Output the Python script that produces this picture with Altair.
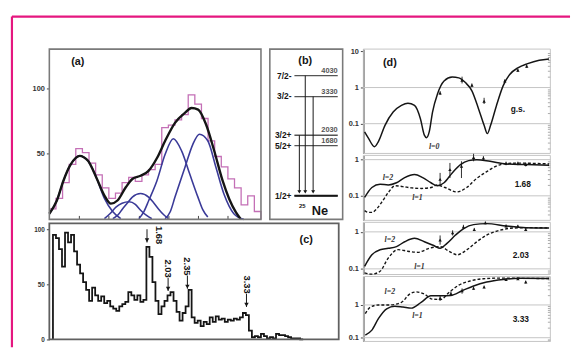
import altair as alt
import pandas as pd

FONT = "Liberation Sans"
SERIF = "Liberation Serif"

# ======================= DATA =======================
# (a) spectrum: counts per bin, total fit and five components
a_counts = [8, 16, 28, 42, 54, 51, 43, 34, 24, 16, 20, 28, 32, 29, 34, 38,
            42, 70, 72, 76, 80, 95, 88, 77, 60, 48, 40, 31, 24, 11, 18, 6]
a_fit_x = [0, 1.14, 2.13, 3.12, 4.0, 4.6, 5.2, 5.85, 7.1, 8.33, 9.3, 10.3,
           11.56, 12.55, 13.8, 15.0, 16.3, 17.5, 19.0, 20.5, 21.5, 22.5,
           23.7, 24.95, 26.2, 27.2, 28.2, 28.9]
a_fit_y = [4.3, 14.4, 29.5, 41, 47, 48.5, 47.5, 44.7, 32, 18.2, 12, 14.4,
           24.5, 30.8, 33.3, 37, 47, 59.8, 73.7, 81.3, 85, 83.8,
           72.4, 52, 29.5, 15.6, 5.5, 0.5]
a_g1_x = [0, 1.14, 2.13, 3.12, 4.0, 4.6, 5.2, 5.85, 7.1, 8.33, 9.57, 10.8]
a_g1_y = [4.3, 14.4, 29.5, 41, 47, 48.5, 47.5, 44.7, 32, 16, 6, 0.5]
a_g2_x = [8.33, 9.2, 10.07, 11.0, 12.05, 13.0, 13.8, 14.7, 15.5]
a_g2_y = [0.5, 4.5, 9.3, 12.3, 13.4, 11.5, 7, 3, 0.5]
a_g3_x = [9.6, 10.4, 11.06, 11.8, 12.55, 13.8, 15.0, 15.8, 16.5, 17.3, 18.0]
a_g3_y = [0.5, 3.5, 8, 12.5, 17, 19.7, 17, 12.5, 8, 3.5, 0.5]
a_g4_x = [13.54, 14.3, 15.03, 16.27, 17.51, 18.75, 20.0, 21.23, 22.47, 23.2, 23.96]
a_g4_y = [0.5, 6, 14.4, 29.5, 49.7, 61.6, 52.3, 34.6, 17, 7.5, 1.8]
a_g5_x = [17.5, 18.3, 19.0, 20.5, 21.7, 22.7, 23.96, 25.2, 26.4, 27.2, 27.9, 29.4]
a_g5_y = [0.5, 6, 17, 39.6, 57.3, 65, 60, 39.6, 19.4, 10, 4.3, 0]

# (b) level scheme of 25Ne
b_energy = [0, 1680, 2030, 3330, 4030]
b_spin = ["1/2+", "5/2+", "3/2+", "3/2-", "7/2-"]
b_tr_from = [2030, 4030, 3330]
b_tr_lane = [30, 36, 44]

# (c) excitation spectrum (0.05 MeV bins starting at 0.12 MeV)
c_start = 0.12
c_width = 0.05
c_counts = [95, 92, 82, 66, 97, 88, 95, 80, 68, 60, 52, 45, 35, 47, 40, 35,
            39, 33, 35, 30, 28, 26, 30, 32, 34, 43, 40, 36, 40, 34, 36, 84,
            75, 52, 35, 23, 30, 35, 40, 43, 35, 25, 17, 24, 30, 45, 20, 15,
            17, 12, 16, 14, 20, 16, 21, 18, 19, 16, 18, 17, 19, 18, 20, 24,
            22, 8, 2, 3, 2, 5, 3, 1, 2, 1, 5, 4, 4, 3, 2, 1, 1, 1, 0]
c_peak_e = [1.68, 2.03, 2.35, 3.33]
c_peak_tip = [88, 44, 46, 29.5]

# (d) angular distributions (angle in deg, cross section)
d1_ang = [0.13, 0.53, 1.13, 1.53, 2.2, 3.03, 3.87, 4.53, 5.2, 5.8, 6.2, 6.43, 6.7,
          7.03, 7.53, 8.2, 9.03, 9.7, 10.37, 11.03, 11.7, 12.27, 12.6, 12.93,
          13.53, 14.2, 14.87, 15.7, 16.7, 17.87, 18.87]
d1_l0 = [0.059, 0.039, 0.023, 0.032, 0.09, 0.21, 0.32, 0.37, 0.32, 0.137, 0.048,
         0.041, 0.06, 0.21, 0.66, 1.52, 1.95, 1.85, 1.37, 0.81, 0.26, 0.09,
         0.053, 0.09, 0.32, 1.11, 2.3, 3.5, 4.6, 5.7, 6.2]
d1_pt_ang = [7.8, 10.03, 11.03, 12.27, 14.37, 15.7, 16.6]
d1_pt = [0.7, 1.6, 1.15, 0.42, 1.52, 3.0, 3.9]
d1_lo = [0.62, 1.3, 1.02, 0.35, 1.38, 2.7, 3.5]
d1_hi = [0.8, 2.0, 1.3, 0.52, 1.68, 3.3, 4.3]

d2_ang = [0.13, 0.87, 1.7, 2.53, 3.37, 4.2, 5.2, 6.03, 6.87, 7.53, 8.2, 9.03,
          9.87, 10.7, 11.53, 12.87, 14.53, 16.53, 18.87]
d2_l2 = [0.09, 0.17, 0.21, 0.2, 0.23, 0.32, 0.39, 0.32, 0.23, 0.19, 0.23, 0.43,
         0.73, 0.94, 1.0, 0.9, 0.76, 0.73, 0.7]
d2_ang1 = [0.13, 0.5, 0.9, 1.4, 2.0, 2.6, 3.2, 4.0, 4.9, 5.9, 6.9, 7.5, 8.3, 9.5,
           10.5, 11.5, 12.5, 13.5, 14.5, 15.9, 18.87]
d2_l1 = [0.039, 0.035, 0.035, 0.045, 0.075, 0.13, 0.19, 0.18, 0.166, 0.16, 0.17,
         0.2, 0.17, 0.128, 0.17, 0.3, 0.46, 0.66, 0.78, 0.8, 0.76]
d2_pt_ang = [7.8, 8.8, 9.97, 11.2, 12.2, 14.5, 15.7, 16.5]
d2_pt = [0.285, 0.53, 0.66, 1.15, 1.1, 0.78, 0.78, 0.73]
d2_lo = [0.21, 0.31, 0.31, 0.9, 0.95, 0.7, 0.7, 0.65]
d2_hi = [0.43, 0.81, 0.9, 1.45, 1.25, 0.88, 0.88, 0.82]

d3_ang = [0.13, 0.87, 1.7, 2.53, 3.37, 4.2, 5.2, 6.2, 7.2, 7.8, 8.5, 9.37, 10.2,
          11.2, 12.53, 14.53, 16.53, 18.87]
d3_l2 = [0.117, 0.24, 0.33, 0.36, 0.4, 0.54, 0.67, 0.54, 0.42, 0.36, 0.49, 0.82,
         1.23, 1.57, 1.67, 1.44, 1.3, 1.27]
d3_ang1 = [0.13, 0.87, 1.7, 2.53, 3.53, 4.53, 5.53, 6.7, 7.8, 8.7, 9.53, 10.53,
           11.53, 12.53, 13.87, 15.2, 17.2, 18.87]
d3_l1 = [0.078, 0.072, 0.086, 0.196, 0.33, 0.3, 0.28, 0.36, 0.4, 0.3, 0.24, 0.33,
         0.54, 0.82, 1.1, 1.27, 1.3, 1.27]
d3_pt_ang = [7.8, 9.07, 10.17, 11.27, 12.4, 14.5, 15.7, 16.5]
d3_pt = [0.6, 0.94, 1.36, 1.15, 1.75, 1.44, 1.42, 1.15]
d3_lo = [0.45, 0.8, 1.2, 1.05, 1.6, 1.3, 1.3, 1.05]
d3_hi = [0.8, 1.1, 1.55, 1.28, 1.9, 1.58, 1.55, 1.27]

d4_ang = [0.2, 0.87, 1.53, 2.37, 3.2, 4.03, 4.87, 5.87, 6.87, 7.87, 8.87, 10.03,
          11.2, 12.53, 14.2, 15.87, 18.87]
d4_solid = [0.12, 0.17, 0.38, 0.76, 0.91, 0.86, 0.8, 1.2, 1.9, 1.9, 1.95, 2.7,
            3.8, 5.0, 6.0, 6.5, 6.4]
d4_ang1 = [0.2, 0.7, 1.53, 2.7, 3.87, 4.7, 5.37, 6.2, 7.03, 7.87, 8.7, 9.7, 10.87,
           12.2, 13.87, 15.87, 18.87]
d4_dash = [0.54, 0.85, 1.0, 1.0, 1.2, 2.14, 2.5, 2.14, 1.5, 1.47, 2.4, 4.0, 5.4,
           6.3, 6.6, 6.5, 6.4]
d4_pt_ang = [7.8, 8.9, 10.03, 11.2, 12.27, 14.5, 15.7, 16.5]
d4_pt = [1.6, 2.2, 2.7, 3.2, 3.5, 6.0, 6.3, 5.0]
d4_lo = [1.35, 1.9, 2.2, 2.9, 3.2, 5.5, 5.8, 4.5]
d4_hi = [1.9, 2.6, 3.2, 3.6, 3.9, 6.5, 6.8, 5.5]

# ======================= STYLE =======================
PINK = "#e5177f"
HIST_A = "#c46fb6"
BLUE = "#3a3a98"
FRAME = "#7a7a7a"
DGREY = "#c4c4c4"
INK = "#151515"
ONE = pd.DataFrame({"k": [0]})


def S(dom, rng, typ="linear"):
    if typ == "log":
        return alt.Scale(type="log", domain=dom, range=rng, nice=False)
    return alt.Scale(domain=dom, range=rng, zero=False, nice=False)


def axis_kw(**kw):
    base = dict(title=None, grid=False, labelFont=FONT, labelFontSize=7.5,
                labelFontWeight="bold", labelColor="#333", tickColor="#444",
                labelPadding=2)
    base.update(kw)
    return alt.Axis(**base)


def frame(xs, ys, xd, yd, color, width):
    return alt.Chart(ONE).mark_rect(fillOpacity=0, stroke=color, strokeWidth=width).encode(
        x=alt.XDatum(xd[0], scale=xs, axis=None), x2=alt.X2Datum(xd[1]),
        y=alt.YDatum(yd[0], scale=ys, axis=None), y2=alt.Y2Datum(yd[1]))


def note(txt, x, y, xs, ys, size=8, weight="bold", style="normal", align="center",
         baseline="middle", angle=0, color=INK, font=FONT):
    return alt.Chart(ONE).mark_text(
        text=txt, font=font, fontSize=size, fontWeight=weight, fontStyle=style,
        align=align, baseline=baseline, angle=angle, color=color).encode(
        x=alt.XDatum(x, scale=xs, axis=None), y=alt.YDatum(y, scale=ys, axis=None))


# ======================= pink outer frame =======================
PX = S([0, 1], [0, 567])
PY = S([0, 1], [0, 336])
pink = alt.layer(
    alt.Chart(ONE).mark_rule(color=PINK, strokeWidth=2.2).encode(
        x=alt.XDatum(0, scale=PX, axis=None), x2=alt.X2Datum(1),
        y=alt.YDatum(0, scale=PY, axis=None)),
    alt.Chart(ONE).mark_rule(color=PINK, strokeWidth=2.2).encode(
        x=alt.XDatum(0, scale=PX, axis=None),
        y=alt.YDatum(0, scale=PY, axis=None), y2=alt.Y2Datum(1)),
)

# ======================= (a) =======================
AX = S([0, 32], [38, 253])
AY = S([0, 130], [206, 33])
a_hist_df = pd.DataFrame({"x": list(range(len(a_counts) + 1)), "y": a_counts + [0]})
a_hist = alt.Chart(a_hist_df).mark_line(interpolate="step-after", color=HIST_A, strokeWidth=1.3).encode(
    x=alt.X("x:Q", scale=AX, axis=axis_kw(orient="top", offset=-206, values=[4.5, 9, 13.5, 18, 22.5, 27],
                                          labels=False, domain=False, tickSize=4)),
    y=alt.Y("y:Q", scale=AY, axis=axis_kw(orient="left", offset=-38, values=[50, 100],
                                          domain=False, tickSize=3)),
    order="x:Q")
g_rows = []
for name, gx, gy in [("g1", a_g1_x, a_g1_y), ("g2", a_g2_x, a_g2_y), ("g3", a_g3_x, a_g3_y),
                     ("g4", a_g4_x, a_g4_y), ("g5", a_g5_x, a_g5_y)]:
    for xv, yv in zip(gx, gy):
        g_rows.append({"g": name, "x": xv, "y": yv})
a_comp = alt.Chart(pd.DataFrame(g_rows)).mark_line(interpolate="monotone", color=BLUE, strokeWidth=1.6).encode(
    x=alt.X("x:Q", scale=AX, axis=None), y=alt.Y("y:Q", scale=AY, axis=None), detail="g:N")
a_fit = alt.Chart(pd.DataFrame({"x": a_fit_x, "y": a_fit_y})).mark_line(
    interpolate="monotone", color=INK, strokeWidth=2.4).encode(
    x=alt.X("x:Q", scale=AX, axis=None), y=alt.Y("y:Q", scale=AY, axis=None))
panel_a = alt.layer(
    a_hist, a_comp, a_fit,
    frame(AX, AY, [0, 32], [0, 130], FRAME, 1.6),
    note("(a)", 4.3, 120, AX, AY, size=11),
).resolve_axis(x="independent", y="independent")

# ======================= (b) =======================
BX = S([0, 74], [262, 336])
BY = S([-793, 4922], [206, 33])
b_df = pd.DataFrame({"E": b_energy, "spin": b_spin, "lab": [str(e) for e in b_energy]})
b_lines = alt.Chart(b_df).mark_rule(color="#555", strokeWidth=1.3).encode(
    x=alt.XDatum(25, scale=BX, axis=None), x2=alt.X2Datum(69),
    y=alt.Y("E:Q", scale=BY, axis=None))
b_ground = alt.Chart(b_df[b_df.E == 0]).mark_rule(color=INK, strokeWidth=2).encode(
    x=alt.XDatum(25, scale=BX, axis=None), x2=alt.X2Datum(69),
    y=alt.Y("E:Q", scale=BY, axis=None))
b_spins = alt.Chart(b_df).mark_text(font=FONT, fontSize=8.5, fontWeight="bold", align="right",
                                    baseline="middle", color=INK).encode(
    x=alt.XDatum(22, scale=BX, axis=None), y=alt.Y("E:Q", scale=BY, axis=None), text="spin:N")
b_elab = alt.Chart(b_df[b_df.E > 0]).mark_text(font=FONT, fontSize=7.5, fontWeight="bold", align="right",
                                               baseline="bottom", dy=-1, color="#555").encode(
    x=alt.XDatum(69, scale=BX, axis=None), y=alt.Y("E:Q", scale=BY, axis=None), text="lab:N")
tr_df = pd.DataFrame({"from": b_tr_from, "lane": b_tr_lane, "to": [130] * len(b_tr_from)})
b_arrows = alt.Chart(tr_df).mark_rule(color=INK, strokeWidth=1).encode(
    x=alt.X("lane:Q", scale=BX, axis=None), y=alt.Y("from:Q", scale=BY, axis=None), y2="to:Q")
b_heads = alt.Chart(tr_df).mark_point(shape="triangle-down", filled=True, size=16, color=INK, opacity=1).encode(
    x=alt.X("lane:Q", scale=BX, axis=None), y=alt.Y("to:Q", scale=BY, axis=None))
panel_b = alt.layer(
    b_lines, b_ground, b_spins, b_elab, b_arrows, b_heads,
    frame(BX, BY, [0, 74], [-793, 4922], FRAME, 1.6),
    note("(b)", 36, 4526, BX, BY, size=11),
    note("25", 33, -330, BX, BY, size=6),
    note("Ne", 51, -500, BX, BY, size=13),
)

# ======================= (c) =======================
CX = S([0.06, 4.86], [38, 332])
CY = S([0, 105.4], [328, 210])
c_edges = [round(c_start + c_width * k, 3) for k in range(len(c_counts) + 1)]
c_df = pd.DataFrame({
    "i": list(range(len(c_counts) + 2)),
    "x": [c_edges[0]] + c_edges,
    "y": [0] + c_counts + [0],
})
c_hist = alt.Chart(c_df).mark_line(interpolate="step-after", color=INK, strokeWidth=1.8).encode(
    x=alt.X("x:Q", scale=CX, axis=None),
    y=alt.Y("y:Q", scale=CY, axis=axis_kw(orient="left", offset=-38, values=[0, 50, 100],
                                          domain=False, tickSize=3, labelFontSize=6.5)),
    order="i:Q")
pk_df = pd.DataFrame({"E": c_peak_e, "tip": c_peak_tip, "lab": ["1.68", "2.03", "2.35", "3.33"]})
pk_df["top"] = pk_df["tip"] + 12
pk_df["head"] = pk_df["tip"] + 2
c_arrows = alt.Chart(pk_df).mark_rule(color=INK, strokeWidth=1).encode(
    x=alt.X("E:Q", scale=CX, axis=None), y=alt.Y("tip:Q", scale=CY, axis=None), y2="top:Q")
c_heads = alt.Chart(pk_df).mark_point(shape="triangle-down", filled=True, size=20, color=INK, opacity=1).encode(
    x=alt.X("E:Q", scale=CX, axis=None), y=alt.Y("head:Q", scale=CY, axis=None))
c_labs = alt.Chart(pk_df[pk_df.E > 1.9]).mark_text(
    font=FONT, fontSize=9.5, fontWeight="bold", angle=90, align="right", baseline="middle", color=INK).encode(
    x=alt.X("E:Q", scale=CX, axis=None), y=alt.Y("top:Q", scale=CY, axis=None), text="lab:N")
panel_c = alt.layer(
    c_hist, c_arrows, c_heads, c_labs,
    note("1.68", 1.87, 103, CX, CY, size=9.5, angle=90, align="left"),
    frame(CX, CY, [0.06, 4.86], [0, 105.4], "#606060", 1.8),
    note("(c)", 4.32, 90, CX, CY, size=11),
).resolve_axis(x="independent", y="independent")

# ======================= (d) =======================
DX = S([0, 19], [357, 547])
MINOR = [0.02, 0.03, 0.04, 0.05, 0.06, 0.07, 0.08, 0.09,
         0.2, 0.3, 0.4, 0.5, 0.6, 0.7, 0.8, 0.9,
         2, 3, 4, 5, 6, 7, 8, 9]


def dpanel(yr, dom, decades, solid, dashed, pts, texts):
    DY = S(dom, yr, "log")
    minor = [m for m in MINOR if dom[0] < m < dom[1]]
    grid = alt.Chart(pd.DataFrame({"v": decades})).mark_rule(color=DGREY, strokeWidth=1).encode(
        x=alt.XDatum(0, scale=DX, axis=None), x2=alt.X2Datum(19),
        y=alt.Y("v:Q", scale=DY, axis=axis_kw(orient="left", offset=-547, values=minor, labels=False,
                                              domain=False, tickSize=3, tickColor="#aaa")))
    layers = [frame(DX, DY, [0, 19], dom, DGREY, 1), grid]
    sx, sy = solid
    layers.append(alt.Chart(pd.DataFrame({"a": sx, "v": sy})).mark_line(
        interpolate="monotone", color=INK, strokeWidth=1.5).encode(
        x=alt.X("a:Q", scale=DX, axis=None),
        y=alt.Y("v:Q", scale=DY, axis=axis_kw(orient="left", offset=-357,
                                              values=decades + [10] if dom[1] > 10 else decades,
                                              format="~g", domain=True, domainColor="#222",
                                              domainWidth=1.2, tickSize=3))))
    if dashed is not None:
        dx, dy = dashed
        layers.append(alt.Chart(pd.DataFrame({"a": dx, "v": dy})).mark_line(
            interpolate="monotone", color=INK, strokeWidth=1.4, strokeDash=[3, 2]).encode(
            x=alt.X("a:Q", scale=DX, axis=None), y=alt.Y("v:Q", scale=DY, axis=None)))
    pa, pv, plo, phi = pts
    pdf = pd.DataFrame({"a": pa, "v": pv, "lo": plo, "hi": phi})
    layers.append(alt.Chart(pdf).mark_rule(color=INK, strokeWidth=0.9).encode(
        x=alt.X("a:Q", scale=DX, axis=None), y=alt.Y("lo:Q", scale=DY, axis=None), y2="hi:Q"))
    layers.append(alt.Chart(pdf).mark_point(shape="triangle-up", filled=True, size=12, color=INK, opacity=1).encode(
        x=alt.X("a:Q", scale=DX, axis=None), y=alt.Y("v:Q", scale=DY, axis=None)))
    for t in texts:
        txt, xa, yv, kw = t
        layers.append(note(txt, xa, yv, DX, DY, **kw))
    return alt.layer(*layers).resolve_axis(y="independent")


IT = dict(size=8, style="italic", color="#333", font=SERIF)
d1 = dpanel([139, 33], [0.015, 11.6], [1, 0.1], (d1_ang, d1_l0), None,
            (d1_pt_ang, d1_pt, d1_lo, d1_hi),
            [("(d)", 2.7, 4.8, dict(size=11)),
             ("g.s.", 15.7, 0.25, dict(size=8.5)),
             ("l=0", 7.2, 0.023, IT)])
d2 = dpanel([207, 141], [0.021, 1.31], [1, 0.1], (d2_ang, d2_l2), (d2_ang1, d2_l1),
            (d2_pt_ang, d2_pt, d2_lo, d2_hi),
            [("l=2", 2.5, 0.31, IT), ("l=1", 5.5, 0.088, IT), ("1.68", 16.2, 0.21, dict(size=8.5))])
d3 = dpanel([262, 209], [0.0705, 1.81], [1, 0.1], (d3_ang, d3_l2), (d3_ang1, d3_l1),
            (d3_pt_ang, d3_pt, d3_lo, d3_hi),
            [("l=2", 2.7, 0.6, IT), ("l=1", 5.7, 0.115, IT), ("2.03", 16.0, 0.24, dict(size=8.5))])
d4 = dpanel([330, 264], [0.077, 7.4], [1, 0.1], (d4_ang, d4_solid), (d4_ang1, d4_dash),
            (d4_pt_ang, d4_pt, d4_lo, d4_hi),
            [("l=2", 2.7, 2.46, IT), ("l=1", 5.5, 0.47, IT), ("3.33", 16.0, 0.38, dict(size=8.5))])

chart = alt.layer(pink, panel_a, panel_b, panel_c, d1, d2, d3, d4).resolve_scale(
    x="independent", y="independent").resolve_axis(x="independent", y="independent").properties(
    width=567, height=336, padding={"left": 2, "top": 4, "right": 0, "bottom": 0},
    background="white").configure_view(stroke=None)

chart.save("out.html", embed_options={"renderer": "svg", "actions": False})
